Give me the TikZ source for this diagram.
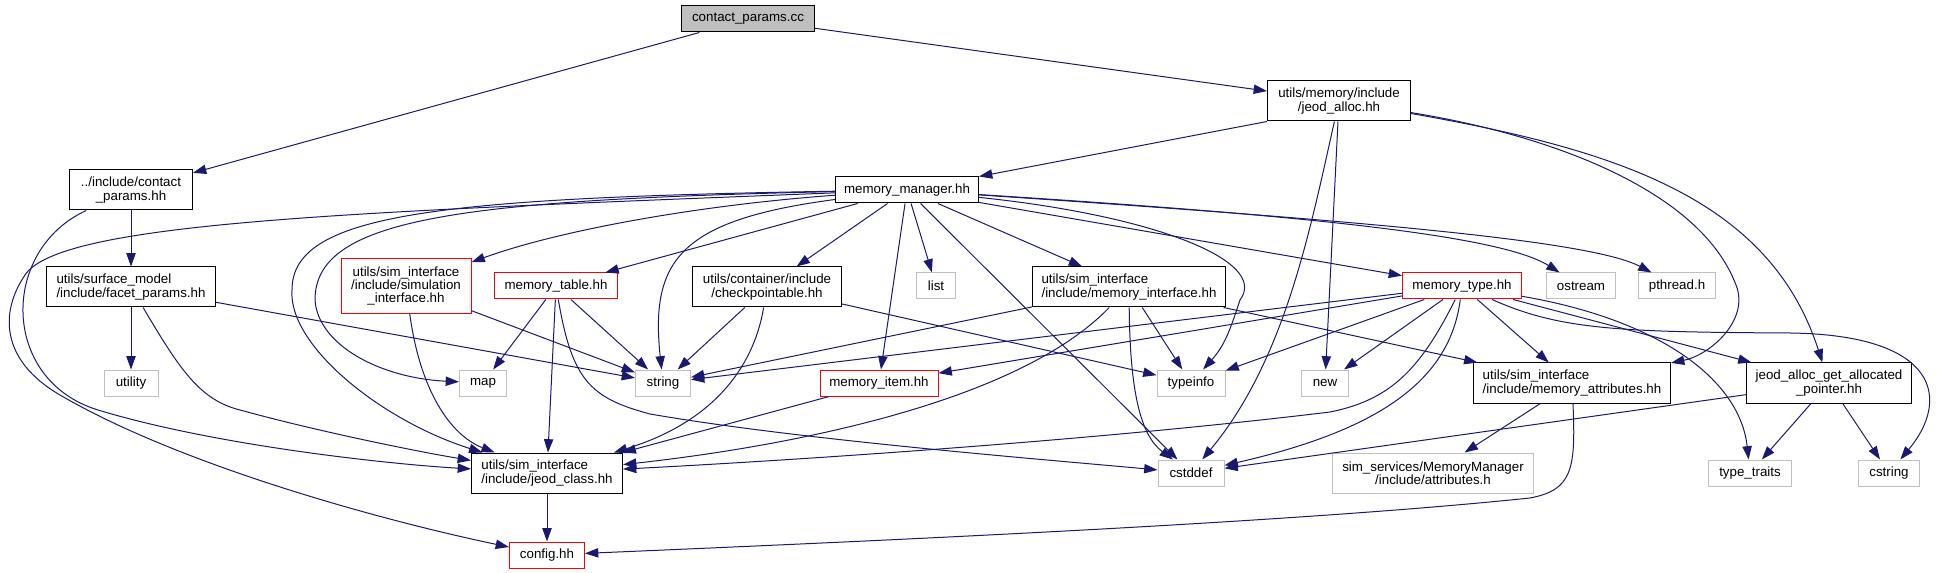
\documentclass[tikz,border=0pt]{standalone}
\usepackage{fontspec}
\setmainfont{Liberation Sans}
\usepackage{tikz}
\usetikzlibrary{arrows.meta}
\definecolor{edgeblue}{HTML}{191970}
\definecolor{extgrey}{HTML}{BFBFBF}
\definecolor{rootgrey}{HTML}{BFBFBF}
\definecolor{undocred}{HTML}{FF0000}

\begin{document}
\begin{tikzpicture}[
    x=0.75pt, y=-0.75pt,
    filebox/.style={draw, rectangle, line width=0.75pt, inner xsep=3pt, inner ysep=1pt, minimum height=19.5pt, align=center, font=\fontsize{10pt}{10pt}\selectfont},
    hdr/.style={filebox},
    rootbox/.style={filebox, fill=rootgrey},
    sysh/.style={filebox, draw=extgrey},
    undoc/.style={filebox, draw=undocred},
    two/.style={minimum height=30pt},
    three/.style={minimum height=41.25pt},
    bw/.style={minimum width=#1*0.75pt},
    incl/.style={draw=edgeblue, line width=0.75pt, -{Triangle[length=10pt, width=7pt]}}
]
\useasboundingbox (0,0) rectangle (1937,573);

\node[rootbox, bw=133] (cc) at (748,19) {contact\_params.cc};
\node[hdr, two, bw=123] (cph) at (131,190) {../include/contact\\\_params.hh};
\node[hdr, two, bw=143] (ja) at (1339,101) {utils/memory/include\\/jeod\_alloc.hh};
\node[hdr, bw=143] (mm) at (907,190) {memory\_manager.hh};
\node[hdr, two, bw=169, align=left] (fp) at (131,287) {utils/surface\_model\\/include/facet\_params.hh};
\node[undoc, three, bw=130] (si) at (406,286) {utils/sim\_interface\\/include/simulation\\\_interface.hh};
\node[undoc, bw=123] (mt) at (556,286) {memory\_table.hh};
\node[hdr, two, bw=149] (ck) at (767,287) {utils/container/include\\/checkpointable.hh};
\node[sysh, bw=39] (ls) at (936,286) {list};
\node[hdr, two, bw=193, align=left] (mi) at (1129,287) {utils/sim\_interface\\/include/memory\_interface.hh};
\node[undoc, bw=119] (mty) at (1462,286) {memory\_type.hh};
\node[sysh, bw=69] (os) at (1581,286) {ostream};
\node[sysh, bw=77] (pt) at (1677,286) {pthread.h};
\node[sysh, bw=54] (ut) at (131,383) {utility};
\node[sysh, bw=47] (mp) at (483,383) {map};
\node[sysh, bw=55] (st) at (663,383) {string};
\node[undoc, bw=118] (mit) at (879,383) {memory\_item.hh};
\node[sysh, bw=68] (ti) at (1191,383) {typeinfo};
\node[sysh, bw=47] (nw) at (1325,383) {new};
\node[hdr, two, bw=197, align=left] (ma) at (1572,383) {utils/sim\_interface\\/include/memory\_attributes.hh};
\node[hdr, two, bw=165] (jg) at (1829,383) {jeod\_alloc\_get\_allocated\\\_pointer.hh};
\node[hdr, two, bw=151, align=left] (jc) at (547,473) {utils/sim\_interface\\/include/jeod\_class.hh};
\node[sysh, bw=66] (cd) at (1191,473) {cstddef};
\node[sysh, two, bw=201] (at) at (1433,473) {sim\_services/MemoryManager\\/include/attributes.h};
\node[sysh, bw=83] (tt) at (1750,473) {type\_traits};
\node[sysh, bw=61] (cs) at (1889,473) {cstring};
\node[undoc, bw=75] (cf) at (547,555) {config.hh};

\draw[incl] (cc) -- (cph);
\draw[incl] (cc) -- (ja);
\draw[incl] (cph) -- (fp);
\draw[incl] (cph) .. controls (0,250) and (0,380) .. (98,410) .. controls (220,447) and (400,465) .. (jc);
\draw[incl] (ja.south west) -- (mm.north east);
\draw[incl] (ja) .. controls (1310,230) and (1285,360) .. (cd);
\draw[incl] (ja) -- (nw);
\draw[incl] (ja) .. controls (1550,135) and (1700,190) .. (1736,285) .. controls (1750,320) and (1710,355) .. (ma);
\draw[incl] (ja) .. controls (1620,150) and (1770,200) .. (jg);

\draw[incl] (mm) .. controls (350,212) and (60,222) .. (25,275) .. controls (0,312) and (0,360) .. (60,395) .. controls (180,465) and (380,520) .. (cf);
\draw[incl] (mm) .. controls (430,198) and (292,215) .. (292,290) .. controls (288,345) and (380,420) .. (jc);
\draw[incl] (mm) .. controls (450,200) and (315,220) .. (315,300) .. controls (318,345) and (380,378) .. (mp);
\draw[incl] (mm) .. controls (700,205) and (560,230) .. (si);
\draw[incl] (mm) -- (mt);
\draw[incl] (mm) .. controls (680,220) and (650,260) .. (st);
\draw[incl] (mm) -- (ck);
\draw[incl] (mm) -- (ls);
\draw[incl] (mm) -- (mit);
\draw[incl] (mm) -- (mi);
\draw[incl] (mm) -- (cd);
\draw[incl] (mm) .. controls (1150,215) and (1270,260) .. (1240,300) .. controls (1230,330) and (1225,345) .. (ti);
\draw[incl] (mm) -- (mty);
\draw[incl] (mm) .. controls (1300,215) and (1500,235) .. (os);
\draw[incl] (mm) .. controls (1350,220) and (1590,240) .. (pt);

\draw[incl] (fp) -- (ut);
\draw[incl] (fp) .. controls (180,370) and (200,400) .. (240,410) .. controls (320,432) and (420,452) .. (jc);
\draw[incl] (fp) -- (st);
\draw[incl] (si) .. controls (420,390) and (450,435) .. (jc);
\draw[incl] (si) -- (st);
\draw[incl] (mt) -- (mp);
\draw[incl] (mt) -- (st);
\draw[incl] (mt) -- (jc);
\draw[incl] (mt) .. controls (572,380) and (590,398) .. (650,414) .. controls (800,440) and (1050,460) .. (cd);
\draw[incl] (ck) -- (st);
\draw[incl] (ck) .. controls (755,360) and (720,420) .. (jc);
\draw[incl] (ck) -- (ti);
\draw[incl] (mi) -- (st);
\draw[incl] (mi) .. controls (1020,400) and (800,445) .. (jc);
\draw[incl] (mi) -- (ti);
\draw[incl] (mi) .. controls (1130,390) and (1140,435) .. (cd);
\draw[incl] (mi) -- (ma);

\draw[incl] (mty) -- (st);
\draw[incl] (mty) -- (mit);
\draw[incl] (mty) -- (ti);
\draw[incl] (mty) -- (nw);
\draw[incl] (mty) .. controls (1420,370) and (1390,400) .. (1330,412) .. controls (1100,440) and (800,460) .. (jc);
\draw[incl] (mty) .. controls (1450,380) and (1380,430) .. (cd);
\draw[incl] (mty) -- (ma);
\draw[incl] (mty) -- (jg);
\draw[incl] (mty) .. controls (1660,320) and (1740,380) .. (tt);
\draw[incl] (mty) .. controls (1560,330) and (1620,332) .. (1790,333) .. controls (1940,335) and (1950,400) .. (cs);

\draw[incl] (mit) -- (jc);
\draw[incl] (jc) -- (cf);
\draw[incl] (ma) -- (at);
\draw[incl] (ma) .. controls (1576,470) and (1572,490) .. (1530,498) .. controls (1300,522) and (900,540) .. (cf);
\draw[incl] (jg) -- (cd);
\draw[incl] (jg) -- (tt);
\draw[incl] (jg) -- (cs);
\end{tikzpicture}
\end{document}
